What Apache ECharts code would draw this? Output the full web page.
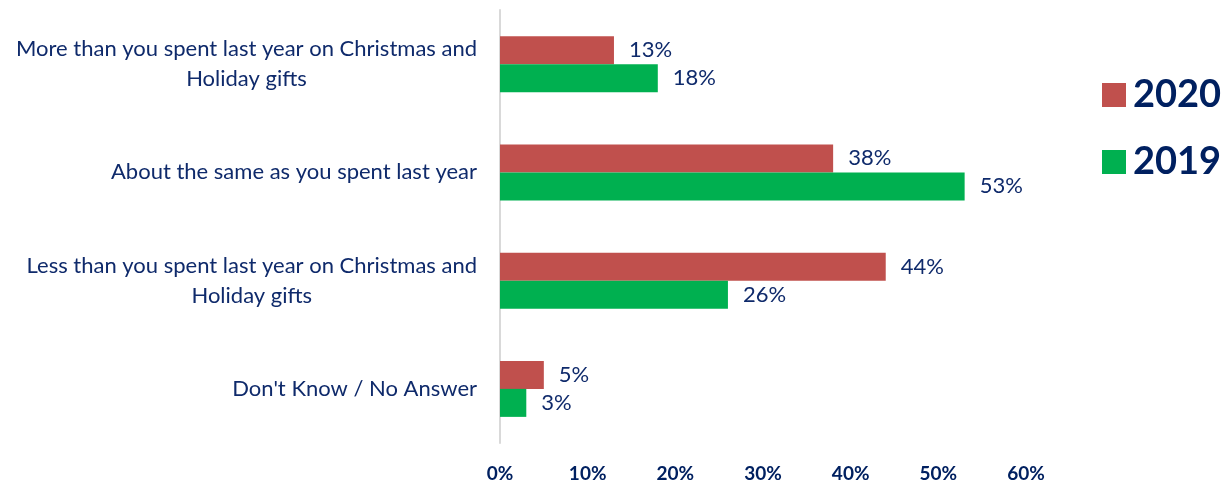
<!DOCTYPE html>
<html>
<head>
<meta charset="utf-8">
<script src="https://cdn.jsdelivr.net/npm/echarts@6/dist/echarts.min.js"></script>
<style>html,body{margin:0;padding:0;background:#fff}#c{width:1228px;height:483px}</style>
</head>
<body>
<div id="c"></div>
<script>
const categories = [
  "More than you spent last year on Christmas and\nHoliday gifts",
  "About the same as you spent last year",
  "Less than you spent last year on Christmas and\nHoliday gifts",
  "Don't Know / No Answer"
];
const seriesNames = ["2020", "2019"];
const values2020 = [13, 38, 44, 5];
const values2019 = [18, 53, 26, 3];
const xTicks = [0, 10, 20, 30, 40, 50, 60];

const FONT = "Lato";
const NAVY = "#0F2A6B";
const chart = echarts.init(document.getElementById('c'));
chart.setOption({
  animation: false,
  textStyle: { fontFamily: FONT },
  grid: { left: 500, top: 10, width: 526, height: 433, containLabel: false },
  legend: {
    orient: 'vertical', left: 1097, top: 71,
    itemWidth: 24, itemHeight: 24, itemGap: 29, icon: 'rect',
    textStyle: { fontFamily: FONT, fontWeight: 'bold', fontSize: 38, color: '#002060', padding: [0,0,0,2] },
    data: seriesNames
  },
  xAxis: {
    type: 'value', min: xTicks[0], max: xTicks[xTicks.length-1], interval: 10,
    splitLine: { show: false }, axisLine: { show: false }, axisTick: { show: false },
    axisLabel: { margin: 21, fontFamily: FONT, fontWeight: 'bold', fontSize: 19, color: '#002060',
      formatter: v => v + '%' }
  },
  yAxis: {
    type: 'category', inverse: true, data: categories,
    axisLine: { lineStyle: { color: '#D9D9D9', width: 2 } },
    axisTick: { show: false },
    axisLabel: {
      margin: 23, align: 'right',
      formatter: v => v.split('\n').map(l => '{c|' + l + '}').join('\n'),
      rich: { c: { align: 'center', fontFamily: FONT, fontSize: 22, lineHeight: 30, color: NAVY } }
    }
  },
  series: [
    { name: seriesNames[0], type: 'bar', data: values2020, barWidth: 28, barGap: '0%',
      itemStyle: { color: '#C0504D' },
      label: { show: true, position: 'right', distance: 15, formatter: '{c}%', fontFamily: FONT, fontSize: 22, color: NAVY } },
    { name: seriesNames[1], type: 'bar', data: values2019, barWidth: 28, barGap: '0%',
      itemStyle: { color: '#00B050' },
      label: { show: true, position: 'right', distance: 15, formatter: '{c}%', fontFamily: FONT, fontSize: 22, color: NAVY } }
  ]
});
</script>
</body>
</html>
